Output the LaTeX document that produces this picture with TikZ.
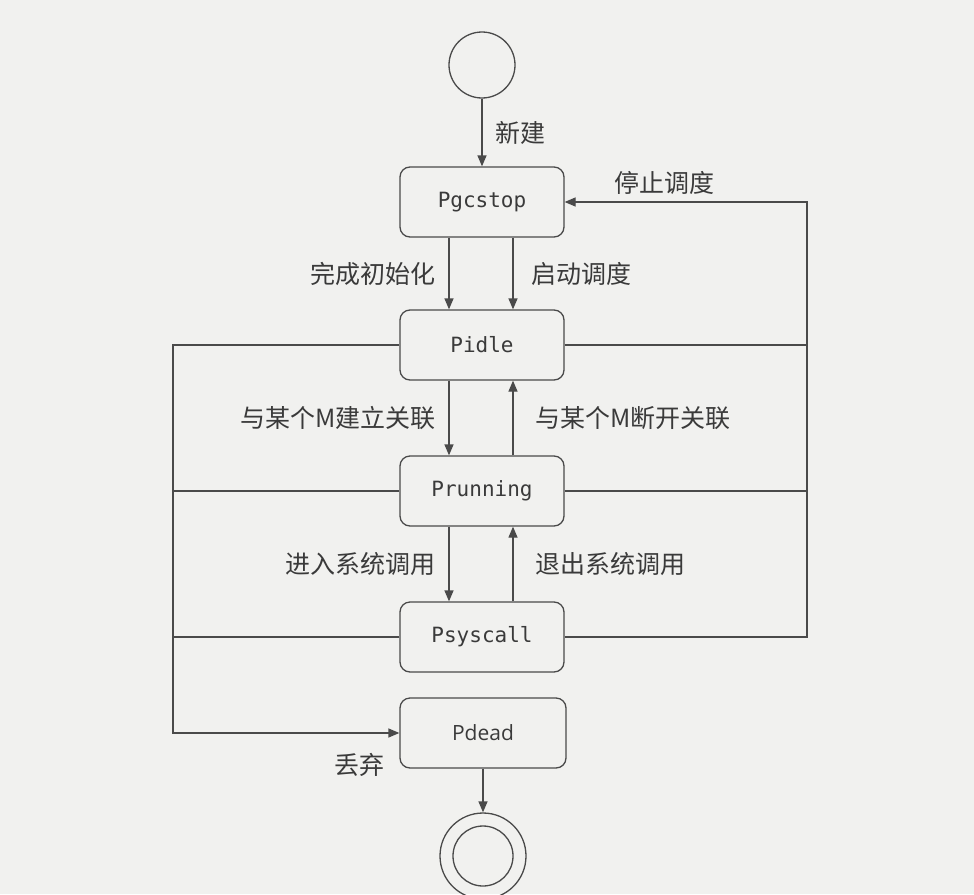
\documentclass[tikz,border=0pt]{standalone}
\usepackage{fontspec}
\setmainfont{Noto Sans CJK SC}
\newfontfamily\statefont{DejaVu Sans Mono}
\newfontfamily\deadfont{Open Sans}
\usepackage{xcolor}
\usetikzlibrary{arrows.meta}

\definecolor{paper}{HTML}{F1F1EF}
\definecolor{linegray}{HTML}{4A4A4A}
\definecolor{txtgray}{HTML}{3A3A3A}

\begin{document}
\begin{tikzpicture}[x=1pt, y=-1pt,
    state/.style={draw=linegray, line width=1.3pt, rounded corners=10pt,
      minimum width=164pt, minimum height=70pt, text=txtgray,
      font=\statefont\fontsize{21}{24}\selectfont},
    ring/.style={circle, draw=linegray, line width=1.3pt, inner sep=0pt},
    lbl/.style={text=txtgray, inner sep=0pt, font=\fontsize{25}{28}\selectfont},
    flow/.style={draw=linegray, line width=1.3pt, -{Triangle[length=11pt,width=9pt]}},
    rail/.style={draw=linegray, line width=1.3pt}]

    % Page
    \fill[paper] (0,0) rectangle (974,894);
    \useasboundingbox (0,0) rectangle (974,894);

    % Rails on both sides
    \coordinate (lrail) at (173,0);
    \coordinate (rrail) at (807,0);

    % States
    \node[ring, minimum size=66pt] (start) at (482,65) {};
    \node[state] (pgcstop)  at (482,202) {Pgcstop};
    \node[state] (pidle)    at (482,345) {Pidle};
    \node[state] (prunning) at (482,491) {Prunning};
    \node[state] (psyscall) at (482,637) {Psyscall};
    \node[state, minimum width=166pt, font=\deadfont\fontsize{21}{24}\selectfont] (pdead) at (483,733) {Pdead};
    \node[ring, minimum size=86pt] (stop) at (483,856) {};
    \node[ring, minimum size=60pt] (stopin) at (stop) {};

    % Creation
    \draw[flow] (start) -- node[lbl, right=13pt] {新建} (pgcstop);

    % Pgcstop -> Pidle
    \draw[flow] ([xshift=-33pt]pgcstop.south) -- node[lbl, left=13pt] {完成初始化} ([xshift=-33pt]pidle.north);
    \draw[flow] ([xshift=31pt]pgcstop.south) -- node[lbl, right=18pt] {启动调度} ([xshift=31pt]pidle.north);

    % Pidle <-> Prunning
    \draw[flow] ([xshift=-33pt]pidle.south) -- node[lbl, left=13pt] {与某个M建立关联} ([xshift=-33pt]prunning.north);
    \draw[flow] ([xshift=31pt]prunning.north) -- node[lbl, right=22pt] {与某个M断开关联} ([xshift=31pt]pidle.south);

    % Prunning <-> Psyscall
    \draw[flow] ([xshift=-33pt]prunning.south) -- node[lbl, left=13pt] {进入系统调用} ([xshift=-33pt]psyscall.north);
    \draw[flow] ([xshift=31pt]psyscall.north) -- node[lbl, right=22pt] {退出系统调用} ([xshift=31pt]prunning.south);

    % Stop scheduling, back to Pgcstop
    \draw[flow] (psyscall.east) -- (psyscall.east -| rrail) -- (pgcstop.east -| rrail) -- (pgcstop.east);
    \draw[rail] (pidle.east) -- (pidle.east -| rrail);
    \draw[rail] (prunning.east) -- (prunning.east -| rrail);
    \node[lbl, anchor=west] (stoplbl) at ([xshift=50pt, yshift=19pt]pgcstop.east) {停止调度};

    % Drop, on to Pdead
    \draw[flow] (pidle.west) -- (pidle.west -| lrail) -- (pdead.west -| lrail) -- (pdead.west);
    \draw[rail] (prunning.west) -- (prunning.west -| lrail);
    \draw[rail] (psyscall.west) -- (psyscall.west -| lrail);
    \node[lbl, anchor=east] (droplbl) at ([xshift=-15pt, yshift=-32pt]pdead.west) {丢弃};

    % End
    \draw[flow] (pdead) -- (stop);

\end{tikzpicture}
\end{document}
